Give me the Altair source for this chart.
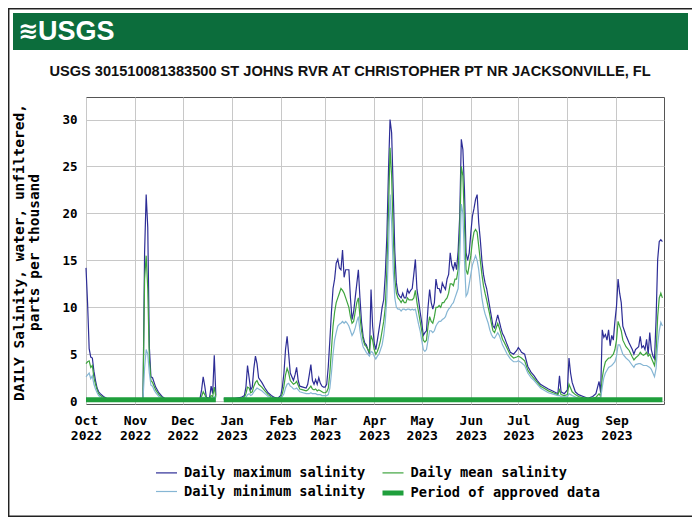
import altair as alt
import pandas as pd

# Daily salinity (ppt), Oct 2022 - Sep 2023
dates = [
    "2022-10-01", "2022-10-02", "2022-10-03", "2022-10-04", "2022-10-05", "2022-10-06", "2022-10-07",
    "2022-10-08", "2022-10-09", "2022-10-10", "2022-10-12", "2022-10-14", "2022-10-17", "2022-10-22",
    "2022-10-28", "2022-11-03", "2022-11-06", "2022-11-07", "2022-11-08", "2022-11-09", "2022-11-10",
    "2022-11-11", "2022-11-12", "2022-11-13", "2022-11-14", "2022-11-16", "2022-11-18", "2022-11-20",
    "2022-11-26", "2022-12-03", "2022-12-09", "2022-12-12", "2022-12-13", "2022-12-14", "2022-12-15",
    "2022-12-16", "2022-12-18", "2022-12-19", "2022-12-20", "2022-12-21", "2022-12-22",
    # after the data gap
    "2022-12-27", "2023-01-03", "2023-01-07", "2023-01-09", "2023-01-10", "2023-01-11", "2023-01-12",
    "2023-01-13", "2023-01-14", "2023-01-15", "2023-01-16", "2023-01-17", "2023-01-18", "2023-01-20",
    "2023-01-22", "2023-01-24", "2023-01-26", "2023-01-28", "2023-01-30",
    "2023-02-01", "2023-02-02", "2023-02-03", "2023-02-04", "2023-02-05", "2023-02-06", "2023-02-07",
    "2023-02-08", "2023-02-09", "2023-02-10", "2023-02-11", "2023-02-12", "2023-02-13", "2023-02-15",
    "2023-02-17", "2023-02-18", "2023-02-19", "2023-02-20", "2023-02-21", "2023-02-22", "2023-02-23",
    "2023-02-24", "2023-02-25", "2023-02-26", "2023-02-27", "2023-02-28",
    "2023-03-01", "2023-03-02", "2023-03-03", "2023-03-04", "2023-03-05", "2023-03-06", "2023-03-07",
    "2023-03-08", "2023-03-09", "2023-03-10", "2023-03-11", "2023-03-12", "2023-03-13", "2023-03-14",
    "2023-03-15", "2023-03-16", "2023-03-17", "2023-03-18", "2023-03-19", "2023-03-20", "2023-03-21",
    "2023-03-22", "2023-03-23", "2023-03-24", "2023-03-25", "2023-03-26", "2023-03-27", "2023-03-28",
    "2023-03-29", "2023-03-30", "2023-03-31",
    "2023-04-01", "2023-04-02", "2023-04-03", "2023-04-04", "2023-04-05", "2023-04-06", "2023-04-07",
    "2023-04-08", "2023-04-09", "2023-04-10", "2023-04-11", "2023-04-12", "2023-04-13", "2023-04-14",
    "2023-04-15", "2023-04-16", "2023-04-17", "2023-04-18", "2023-04-19", "2023-04-20", "2023-04-21",
    "2023-04-22", "2023-04-23", "2023-04-24", "2023-04-25", "2023-04-26", "2023-04-27", "2023-04-28",
    "2023-04-29", "2023-04-30",
    "2023-05-01", "2023-05-02", "2023-05-03", "2023-05-04", "2023-05-05", "2023-05-06", "2023-05-07",
    "2023-05-08", "2023-05-09", "2023-05-10", "2023-05-11", "2023-05-12", "2023-05-13", "2023-05-14",
    "2023-05-15", "2023-05-16", "2023-05-17", "2023-05-18", "2023-05-19", "2023-05-20", "2023-05-21",
    "2023-05-22", "2023-05-23", "2023-05-24", "2023-05-25", "2023-05-26", "2023-05-27", "2023-05-28",
    "2023-05-29", "2023-05-30", "2023-05-31",
    "2023-06-01", "2023-06-02", "2023-06-03", "2023-06-04", "2023-06-05", "2023-06-06", "2023-06-07",
    "2023-06-08", "2023-06-09", "2023-06-10", "2023-06-11", "2023-06-12", "2023-06-13", "2023-06-14",
    "2023-06-15", "2023-06-16", "2023-06-17", "2023-06-18", "2023-06-19", "2023-06-20", "2023-06-21",
    "2023-06-22", "2023-06-24", "2023-06-26", "2023-06-28", "2023-06-30",
    "2023-07-01", "2023-07-02", "2023-07-03", "2023-07-05", "2023-07-07", "2023-07-09", "2023-07-11",
    "2023-07-13", "2023-07-15", "2023-07-17", "2023-07-20", "2023-07-23", "2023-07-26", "2023-07-27",
    "2023-07-28", "2023-07-30",
    "2023-08-01", "2023-08-02", "2023-08-03", "2023-08-04", "2023-08-06", "2023-08-08", "2023-08-11",
    "2023-08-14", "2023-08-17", "2023-08-19", "2023-08-21", "2023-08-22", "2023-08-23", "2023-08-24",
    "2023-08-25", "2023-08-26", "2023-08-27", "2023-08-28", "2023-08-29", "2023-08-30", "2023-08-31",
    "2023-09-01", "2023-09-02", "2023-09-03", "2023-09-04", "2023-09-05", "2023-09-07", "2023-09-09",
    "2023-09-11", "2023-09-12", "2023-09-13", "2023-09-15", "2023-09-16", "2023-09-17", "2023-09-18",
    "2023-09-19", "2023-09-20", "2023-09-21", "2023-09-22", "2023-09-23", "2023-09-24", "2023-09-25",
    "2023-09-26", "2023-09-27", "2023-09-28", "2023-09-29", "2023-09-30",
]

daily_max = [
    14.2, 10.4, 5.6, 4.7, 4.6, 3.2, 2.2,
    1.4, 1.0, 0.8, 0.5, 0.3, 0.2, 0.2,
    0.2, 0.2, 0.3, 15.8, 22.0, 18.5, 5.8,
    2.6, 2.5, 2.0, 1.5, 0.9, 0.5, 0.25,
    0.2, 0.2, 0.2, 0.3, 1.2, 2.6, 1.6,
    0.4, 0.3, 1.6, 0.8, 4.9, 0.6,
    0.3, 0.3, 0.4, 0.6, 1.5, 3.8, 2.5,
    1.2, 1.5, 3.5, 4.8, 4.0, 2.5, 2.0,
    1.4, 0.9, 0.6, 0.4, 0.3,
    0.6, 1.5, 3.0, 5.5, 6.9, 5.0, 3.0,
    2.6, 2.2, 2.8, 3.6, 2.2, 1.6, 1.5,
    1.4, 1.8, 2.8, 3.9, 2.2, 1.8, 2.3,
    1.8, 2.5, 1.9, 1.6, 1.5,
    1.5, 1.8, 3.7, 6.5, 9.5, 12.0, 13.0,
    14.7, 15.1, 14.2, 14.0, 16.1, 13.2, 14.0,
    14.0, 14.0, 11.0, 8.7, 9.5, 11.0, 12.5,
    14.0, 11.0, 8.4, 6.9, 6.2, 6.0, 5.5,
    5.0, 11.9, 8.0,
    6.2, 5.5, 6.5, 7.6, 8.7, 10.0, 10.8,
    13.5, 17.6, 24.4, 30.0, 28.6, 22.5, 16.0,
    12.6, 11.5, 11.2, 11.0, 11.5, 11.0, 11.0,
    11.9, 11.5, 11.8, 12.0, 13.5, 15.1, 11.9,
    10.8, 9.5,
    8.4, 7.0, 7.3, 7.5, 10.0, 11.9, 10.5,
    9.8, 10.5, 13.0, 12.0, 12.0, 11.5, 12.6,
    12.2, 11.9, 13.0, 13.5, 15.8, 14.5, 14.0,
    14.8, 14.0, 16.0, 19.7, 27.9, 26.8, 22.5,
    15.8, 15.0, 15.8,
    17.9, 19.7, 20.5, 21.5, 22.0, 19.0, 17.2,
    15.0, 13.5, 12.6, 12.0, 11.0, 10.0, 9.0,
    8.0, 7.8, 8.5, 9.2, 8.5, 7.8, 7.2,
    6.9, 6.0, 5.2, 5.0, 5.4,
    5.7, 5.5, 5.2, 5.0, 3.7, 3.1, 2.7,
    2.2, 1.8, 1.6, 1.3, 1.06, 0.8, 2.7,
    1.0, 0.8,
    1.2, 4.6, 3.0, 2.0, 1.0, 0.7, 0.5,
    0.3, 0.5, 0.8, 2.1, 0.9, 7.6, 6.8,
    7.1, 6.5, 7.6, 5.9, 7.0, 6.5, 8.5,
    10.1, 13.0, 11.5, 10.5, 8.0, 7.0, 6.2,
    5.5, 5.0, 5.5, 5.8, 6.9, 5.7, 5.9,
    5.5, 6.6, 5.0, 7.3, 5.5, 4.8, 4.5,
    8.7, 15.1, 17.0, 17.2, 17.0,
]

daily_mean = [
    4.0, 4.2, 4.3, 3.6, 3.8, 2.5, 1.8,
    1.2, 0.8, 0.6, 0.4, 0.25, 0.18, 0.15,
    0.15, 0.15, 0.2, 13.0, 15.5, 12.0, 4.5,
    2.2, 2.0, 1.6, 1.2, 0.7, 0.4, 0.2,
    0.15, 0.15, 0.15, 0.2, 0.5, 1.0, 0.7,
    0.3, 0.2, 0.6, 0.5, 1.5, 0.4,
    0.2, 0.2, 0.3, 0.4, 0.8, 1.5, 1.4,
    0.9, 1.0, 1.6, 2.0, 2.2, 1.8, 1.5,
    1.1, 0.7, 0.45, 0.3, 0.25,
    0.4, 0.8, 1.6, 2.8, 3.5, 3.0, 2.2,
    2.0, 1.8, 1.9, 2.1, 1.7, 1.3, 1.2,
    1.1, 1.2, 1.4, 1.6, 1.3, 1.2, 1.3,
    1.1, 1.2, 1.1, 1.0, 0.9,
    0.9, 1.0, 1.4, 3.0, 5.5, 8.0, 9.5,
    10.5, 11.0, 11.5, 12.0, 11.8, 11.5, 11.0,
    10.5, 10.0, 9.0, 8.3, 8.5, 9.5, 10.5,
    11.0, 9.0, 7.5, 6.5, 6.0, 5.8, 5.5,
    5.2, 7.0, 6.5,
    5.5, 5.0, 5.3, 5.8, 6.5, 7.5, 8.5,
    10.0, 14.0, 20.0, 27.0, 24.0, 18.0, 13.0,
    11.5, 11.0, 10.8, 10.5, 10.8, 10.5, 10.5,
    11.0, 10.8, 10.8, 10.8, 11.0, 11.8, 10.5,
    9.5, 8.5,
    7.5, 6.5, 6.3, 6.5, 8.0, 9.0, 8.5,
    8.3, 9.0, 10.0, 10.0, 10.2, 10.0, 10.5,
    10.5, 10.8, 11.0, 11.5, 12.5, 12.5, 12.3,
    13.0, 13.0, 14.0, 18.0, 25.0, 24.0, 19.0,
    14.0, 13.5, 14.5,
    15.5, 17.0, 18.0, 18.3, 18.0, 16.5, 15.0,
    13.5, 12.3, 11.5, 10.8, 10.0, 9.2, 8.3,
    7.5, 7.3, 7.8, 8.3, 7.8, 7.2, 6.6,
    6.3, 5.6, 4.9, 4.6, 4.7,
    4.8, 4.7, 4.6, 4.3, 3.3, 2.8, 2.4,
    2.0, 1.6, 1.4, 1.1, 0.9, 0.7, 1.2,
    0.7, 0.6,
    0.7, 1.8, 1.4, 1.0, 0.7, 0.5, 0.35,
    0.25, 0.3, 0.4, 0.8, 0.5, 2.5, 3.5,
    4.2, 4.4, 4.6, 4.6, 4.8, 5.0, 5.5,
    6.5, 8.5, 8.0, 7.5, 6.5, 5.8, 5.4,
    4.7, 4.4, 4.6, 4.9, 5.2, 5.0, 4.9,
    5.0, 5.2, 4.8, 5.0, 4.6, 4.2, 3.8,
    5.0, 9.0, 11.0, 11.5, 11.0,
]

daily_min = [
    2.6, 2.8, 3.0, 2.4, 2.7, 1.8, 1.3,
    0.9, 0.6, 0.45, 0.3, 0.2, 0.15, 0.12,
    0.12, 0.12, 0.15, 3.5, 5.5, 5.0, 3.0,
    1.7, 1.6, 1.2, 0.9, 0.5, 0.3, 0.15,
    0.12, 0.12, 0.12, 0.15, 0.3, 0.4, 0.4,
    0.2, 0.15, 0.3, 0.3, 0.5, 0.3,
    0.15, 0.15, 0.2, 0.3, 0.4, 0.7, 0.8,
    0.6, 0.7, 1.0, 1.2, 1.4, 1.3, 1.1,
    0.8, 0.5, 0.35, 0.25, 0.2,
    0.3, 0.5, 0.8, 1.4, 1.8, 1.9, 1.6,
    1.5, 1.3, 1.3, 1.4, 1.2, 1.0, 0.9,
    0.8, 0.8, 0.8, 0.9, 0.8, 0.8, 0.8,
    0.7, 0.7, 0.7, 0.6, 0.6,
    0.6, 0.6, 0.7, 1.4, 3.0, 5.0, 6.5,
    7.3, 8.0, 8.2, 8.3, 8.5, 8.3, 8.5,
    8.3, 8.0, 7.5, 7.0, 7.3, 7.8, 8.5,
    9.0, 7.5, 6.5, 5.8, 5.5, 5.2, 5.0,
    4.8, 5.3, 5.2,
    4.8, 4.5, 4.8, 5.0, 5.5, 6.0, 7.0,
    8.5, 11.0, 16.0, 22.0, 19.0, 14.0, 11.0,
    10.0, 9.8, 9.8, 9.6, 9.8, 9.8, 9.7,
    9.8, 9.8, 9.7, 9.8, 9.7, 9.8, 9.0,
    8.2, 7.5,
    6.5, 5.5, 5.3, 5.5, 6.5, 7.5, 7.5,
    7.3, 7.5, 8.0, 8.3, 8.5, 8.5, 8.7,
    8.8, 9.0, 9.5, 9.8, 10.0, 10.3, 10.5,
    11.0, 11.5, 12.0, 15.0, 21.0, 20.0, 15.0,
    11.2, 11.5, 12.5,
    13.5, 14.5, 15.0, 15.5, 15.0, 14.0, 12.5,
    11.0, 10.0, 9.3, 8.8, 8.3, 7.6, 7.1,
    6.8, 6.7, 7.0, 7.3, 7.0, 6.5, 6.0,
    5.7, 5.0, 4.5, 4.2, 4.2,
    4.3, 4.2, 4.1, 3.8, 3.0, 2.5, 2.2,
    1.8, 1.4, 1.2, 0.9, 0.75, 0.6, 0.6,
    0.5, 0.45,
    0.45, 0.8, 0.7, 0.6, 0.45, 0.3, 0.25,
    0.2, 0.2, 0.25, 0.4, 0.3, 1.5, 2.5,
    3.0, 3.3, 3.6, 3.7, 3.8, 4.0, 4.2,
    4.8, 6.0, 6.0, 5.5, 5.0, 4.6, 4.3,
    3.8, 3.6, 3.9, 4.0, 4.0, 3.9, 3.8,
    3.8, 3.8, 3.7, 3.6, 3.4, 3.0, 2.6,
    3.5, 6.0, 7.5, 8.4, 8.0,
]

approved_from = ["2022-10-01", "2022-12-27"]
approved_to = ["2022-12-22", "2023-09-30"]

month_ticks = [
    (2022, 10), (2022, 11), (2022, 12), (2023, 1), (2023, 2), (2023, 3),
    (2023, 4), (2023, 5), (2023, 6), (2023, 7), (2023, 8), (2023, 9),
]

MAX, MEAN, MIN, APPROVED = (
    "Daily maximum salinity", "Daily mean salinity",
    "Daily minimum salinity", "Period of approved data",
)
# legend fills column by column: max / min, then mean / approved
legend_order = [MAX, MIN, MEAN, APPROVED]
legend_colors = ["#2d2d96", "#86b6d4", "#3ea43e", "#1f9f3c"]
legend_widths = [1.2, 1.2, 1.2, 5]

station_title = "USGS 301510081383500 ST JOHNS RVR AT CHRISTOPHER PT NR JACKSONVILLE, FL"

MONO = "DejaVu Sans Mono"
SANS = "Liberation Sans Narrow, Arial Narrow, Liberation Sans"

# long table for the three salinity lines, split at the December data gap
wide = pd.DataFrame({"date": dates, MAX: daily_max, MEAN: daily_mean, MIN: daily_min})
wide["segment"] = (pd.to_datetime(wide["date"]) > pd.Timestamp("2022-12-24")).astype(int)
long = wide.melt(["date", "segment"], var_name="series", value_name="salinity")

approved = pd.DataFrame({"start": approved_from, "end": approved_to, "series": APPROVED})

x_scale = alt.Scale(
    type="utc",
    domain=[alt.DateTime(year=2022, month=10, date=1, utc=True),
            alt.DateTime(year=2023, month=10, date=1, utc=True)],
)
y_scale = alt.Scale(domain=[-0.3, 32.4], nice=False, zero=False)

x_axis = alt.Axis(
    title=None,
    values=[alt.DateTime(year=y, month=m, date=1, utc=True) for y, m in month_ticks],
    labelExpr="[utcFormat(datum.value, '%b'), utcFormat(datum.value, '%Y')]",
    labelFontSize=13,
    labelLineHeight=15,
    labelPadding=10,
    labelFlush=False,
    labelOverlap=False,
    ticks=False,
    domain=False,
)
y_axis = alt.Axis(
    title=["DAILY Salinity, water, unfiltered,", "parts per thousand"],
    values=[0, 5, 10, 15, 20, 25, 30],
    labelFontSize=12.5,
    ticks=False,
    domain=False,
    labelPadding=9,
    titleX=-67,
    titleY=155,
    titleAngle=-90,
    titleBaseline="middle",
    titleLineHeight=15,
    titleFont=MONO,
    titleFontSize=14.5,
    titleFontWeight="bold",
)

legend = alt.Legend(
    title=None,
    orient="none",
    legendX=67.5,
    legendY=364,
    columns=2,
    columnPadding=6.5,
    rowPadding=0,
    symbolType="stroke",
    symbolSize=441,
    labelOffset=4.5,
    labelFont=MONO,
    labelFontSize=13.7,
    labelFontWeight="bold",
    labelColor="#000",
    labelLimit=0,
)
color = alt.Color("series:N", sort=legend_order,
                  scale=alt.Scale(domain=legend_order, range=legend_colors), legend=legend)
width = alt.StrokeWidth("series:O", sort=legend_order,
                        scale=alt.Scale(type="ordinal", domain=legend_order, range=legend_widths),
                        legend=legend)

lines = alt.Chart(long).mark_line(strokeJoin="miter").encode(
    x=alt.X("date:T", scale=x_scale, axis=x_axis),
    y=alt.Y("salinity:Q", scale=y_scale, axis=y_axis),
    color=color,
    strokeWidth=width,
    detail="segment:N",
)

approved_bar = alt.Chart(approved).mark_rule(strokeCap="butt").encode(
    x="start:T",
    x2="end:T",
    y=alt.datum(0.15),
    color=color,
    strokeWidth=width,
)

# page decoration: frame, green banner, logo and station name
one = pd.DataFrame({"k": [0]})
frame = alt.Chart(one).mark_rect(fill="transparent", stroke="#222", strokeWidth=1.5).encode(
    x=alt.value(-77.3), x2=alt.value(607.3), y=alt.value(-88.3), y2=alt.value(419.3)
)
banner = alt.Chart(one).mark_rect(fill="#0c6d3c").encode(
    x=alt.value(-73), x2=alt.value(602), y=alt.value(-84), y2=alt.value(-47)
)
waves = alt.Chart(one).mark_text(
    text="≋", font="DejaVu Sans", fontSize=24, fontWeight="bold", color="white", align="left", baseline="middle"
).encode(x=alt.value(-68), y=alt.value(-65))
logo = alt.Chart(one).mark_text(
    text="USGS", font=SANS, fontSize=27, fontWeight="bold", color="white", align="left", baseline="middle"
).encode(x=alt.value(-48), y=alt.value(-65))
heading = alt.Chart(one).mark_text(
    text=station_title, font=SANS, fontSize=14.6, fontWeight="bold", color="#111", align="center", baseline="middle"
).encode(x=alt.value(264), y=alt.value(-25))

chart = alt.layer(
    frame, banner, waves, logo, heading, lines, approved_bar
).properties(
    width=578,
    height=307,
    padding={"left": 78, "top": 89, "right": 28, "bottom": 113},
    autosize=alt.AutoSizeParams(type="none"),
    background="white",
).configure_view(
    stroke="#555", strokeWidth=1
).configure_axis(
    grid=True,
    gridColor="#c8c8c8",
    gridWidth=1,
    labelFont=MONO,
    labelFontWeight="bold",
    labelColor="#000",
    titleColor="#000",
)

chart.save("out.html", embed_options={"renderer": "svg", "actions": False})
